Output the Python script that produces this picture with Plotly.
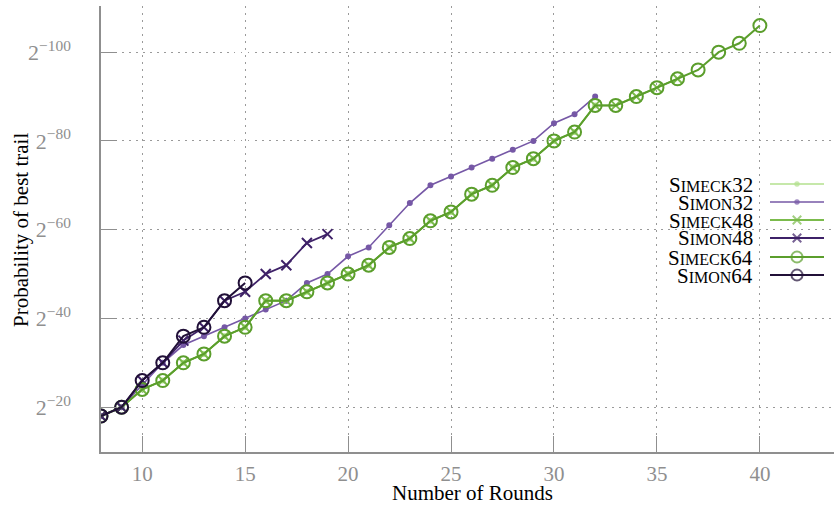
import plotly.graph_objects as go

# ---- data (weight w of best trail, probability = 2^-w) ----
rounds_simeck64 = list(range(8, 41))
w_simeck64 = [18, 20, 24, 26, 30, 32, 36, 38, 44, 44, 46, 48, 50, 52, 56, 58, 62, 64,
              68, 70, 74, 76, 80, 82, 88, 88, 90, 92, 94, 96, 100, 102, 106]
rounds_simeck48 = list(range(8, 37))
w_simeck48 = w_simeck64[:len(rounds_simeck48)]
rounds_simeck32 = list(range(8, 33))
w_simeck32 = w_simeck64[:len(rounds_simeck32)]

rounds_simon32 = list(range(8, 33))
w_simon32 = [18, 20, 25, 30, 34, 36, 38, 40, 42, 44, 48, 50, 54, 56, 61, 66, 70, 72,
             74, 76, 78, 80, 84, 86, 90]
rounds_simon48 = list(range(8, 20))
w_simon48 = [18, 20, 26, 30, 35, 38, 44, 46, 50, 52, 57, 59]
rounds_simon64 = list(range(8, 16))
w_simon64 = [18, 20, 26, 30, 36, 38, 44, 48]

ytick_vals = [20, 40, 60, 80, 100]
ytick_text = ["2<sup>\u2212%d</sup>" % v for v in ytick_vals]
xtick_vals = [10, 15, 20, 25, 30, 35, 40]

names = ["Simeck32", "Simon32", "Simeck48", "Simon48", "Simeck64", "Simon64"]
colors = ["#b3e08e", "#7658a6", "#7bbb4c", "#3e2168", "#5b9e2c", "#211038"]
symbols = ["circle", "circle", "x-thin-open", "x-thin-open", "circle-open", "circle-open"]
msizes = [4, 4, 10, 10, 13, 13]
lwidths = [1.6, 1.6, 1.8, 1.8, 2.0, 2.0]

series = [
    (rounds_simeck32, w_simeck32),
    (rounds_simon32, w_simon32),
    (rounds_simeck48, w_simeck48),
    (rounds_simon48, w_simon48),
    (rounds_simeck64, w_simeck64),
    (rounds_simon64, w_simon64),
]

FONT = "Liberation Serif"
GRAY = "#8f8f8f"
GRID = "#9a9a9a"

fig = go.Figure()
for (xs, ys), name, c, s, ms, lw in zip(series, names, colors, symbols, msizes, lwidths):
    fig.add_trace(go.Scatter(
        x=xs, y=ys, mode="lines+markers", name=name,
        line=dict(color=c, width=lw),
        marker=dict(symbol=s, size=ms, color=c, line=dict(color=c, width=2)),
        showlegend=False,
    ))

# ---- manual legend (text left, sample right) ----
L, R, T, B = 101, 834, 6, 452
W, H = 834, 506
def px2fx(px):
    return (px - L) / (R - L)
def px2fy(py):
    return (B - py) / (B - T)

fig.add_shape(type="rect", xref="paper", yref="paper",
              x0=px2fx(652), x1=px2fx(827), y0=px2fy(288), y1=px2fy(172),
              fillcolor="white", line=dict(width=0), layer="between")

row_y = [184, 202, 220, 238, 257, 275]
for name, c, s, ms, lw, py in zip(names, colors, symbols, msizes, lwidths, row_y):
    base = name[0]
    rest = "".join(ch for ch in name[1:] if ch.isalpha()).upper()
    num = "".join(ch for ch in name if ch.isdigit())
    label = "%s<span style='font-size:16px'>%s</span>%s" % (base, rest, num)
    fig.add_annotation(xref="paper", yref="paper", x=px2fx(754), y=px2fy(py),
                       text=label, showarrow=False, xanchor="right", yanchor="middle",
                       font=dict(family=FONT, size=21, color="black"), borderpad=0,
                       height=17)
    fig.add_trace(go.Scatter(
        x=[px2fx(770), px2fx(797), px2fx(824)], y=[px2fy(py)] * 3,
        xaxis="x2", yaxis="y2", mode="lines+markers",
        line=dict(color=c, width=lw),
        marker=dict(symbol=s, size=[0, ms * 0.85, 0], color=c, line=dict(color=c, width=2)),
        showlegend=False, hoverinfo="skip",
    ))

# axis titles
fig.add_annotation(xref="paper", yref="paper", x=px2fx(472), y=px2fy(493),
                   text="Number of Rounds", showarrow=False, xanchor="center", yanchor="middle",
                   font=dict(family=FONT, size=21, color="black"))
fig.add_annotation(xref="paper", yref="paper", x=px2fx(21), y=px2fy(230),
                   text="Probability of best trail", showarrow=False, textangle=-90,
                   xanchor="center", yanchor="middle",
                   font=dict(family=FONT, size=21, color="black"))

fig.update_layout(
    width=W, height=H,
    margin=dict(l=L, r=W - R, t=T, b=H - B),
    plot_bgcolor="white", paper_bgcolor="white",
    font=dict(family=FONT, size=19, color="black"),
    showlegend=False,
    xaxis=dict(
        range=[8, 43.6], tickvals=xtick_vals, ticks="inside", ticklen=16,
        tickcolor=GRAY, tickwidth=1, showline=True, linecolor=GRAY, linewidth=1.5,
        showgrid=True, gridcolor=GRID, griddash="1.5px,5.5px", gridwidth=1,
        zeroline=False, tickfont=dict(family=FONT, size=21, color=GRAY),
        automargin=False, ticklabelstandoff=2,
    ),
    yaxis=dict(
        range=[9.9, 110.4], tickvals=ytick_vals, ticktext=ytick_text, ticks="inside",
        ticklen=16, tickcolor=GRAY, tickwidth=1, showline=True, linecolor=GRAY,
        linewidth=1.5, showgrid=True, gridcolor=GRID, griddash="1.5px,5.5px", gridwidth=1,
        zeroline=False, tickfont=dict(family=FONT, size=22, color=GRAY),
        automargin=False, ticklabelstandoff=24,
    ),
    xaxis2=dict(domain=[0, 1], range=[0, 1], overlaying="x", anchor="y2", visible=False,
                fixedrange=True),
    yaxis2=dict(domain=[0, 1], range=[0, 1], overlaying="y", anchor="x2", visible=False,
                fixedrange=True),
)

fig.write_html("out.html", config={"displayModeBar": False},
               post_script="document.body.style.margin='0';")
